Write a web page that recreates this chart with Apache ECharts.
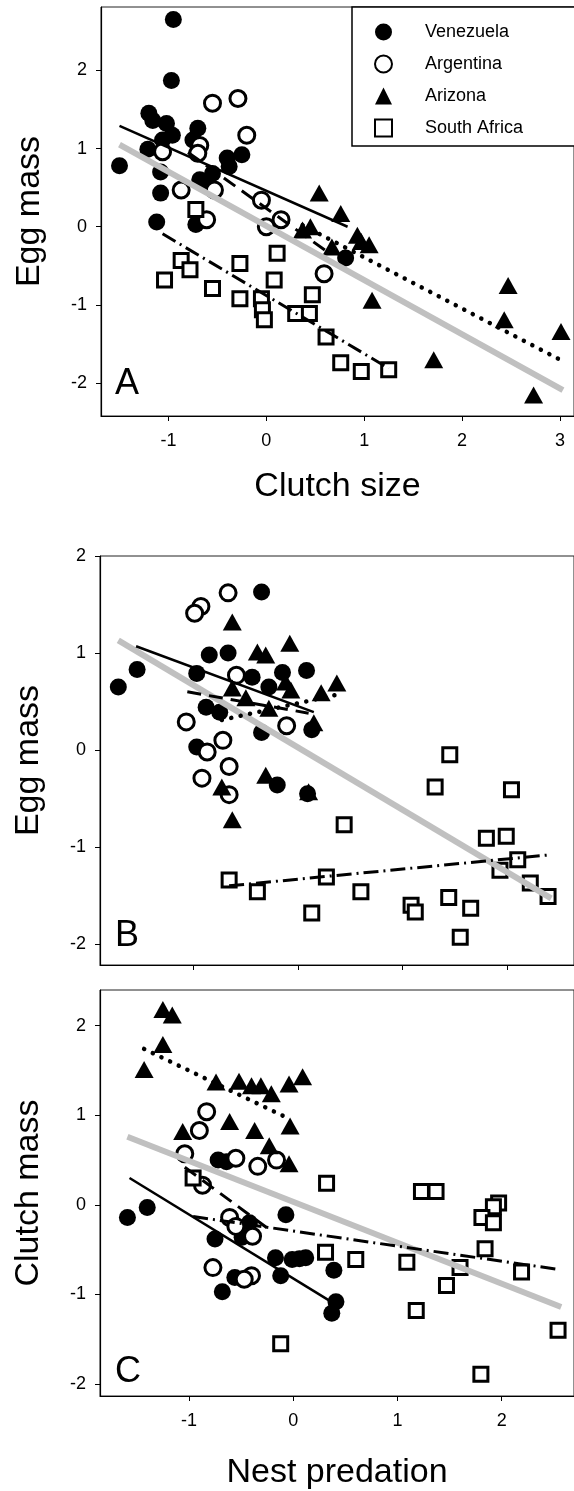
<!DOCTYPE html>
<html>
<head>
<meta charset="utf-8">
<script src="https://cdn.jsdelivr.net/npm/echarts@6/dist/echarts.min.js"></script>
<style>
html,body{margin:0;padding:0;background:#fff;}
#chart{width:574px;height:1491px;}
</style>
</head>
<body>
<div id="chart"></div>
<script>
// ---------- DATA ----------
const groups = ['Venezuela', 'Argentina', 'Arizona', 'South Africa'];
const tickValues = [-2, -1, 0, 1, 2, 3];
const panelLetters = ['A', 'B', 'C'];
const axisTitlesX = ['Clutch size', '', 'Nest predation'];
const axisTitlesY = ['Egg mass', 'Egg mass', 'Clutch mass'];

// Panel A: Egg mass vs Clutch size
const A_venezuela = [[-0.95,2.65],[-0.97,1.87],[-1.20,1.45],[-1.16,1.36],[-1.02,1.32],[-0.96,1.17],[-1.06,1.11],[-1.21,0.99],[-0.70,1.26],[-0.75,1.11],[-1.50,0.78],[-1.08,0.70],[-1.08,0.43],[-0.68,0.60],[-0.55,0.68],[-0.40,0.88],[-0.25,0.92],[-0.38,0.77],[-1.12,0.06],[-0.72,0.03],[0.81,-0.40],[-0.62,0.55]];
const A_argentina = [[-0.55,1.58],[-0.29,1.64],[-0.20,1.17],[-0.68,1.04],[-1.06,0.96],[-0.70,0.94],[-0.87,0.47],[-0.53,0.47],[-0.05,0.34],[-0.61,0.09],[0.0,0.0],[0.15,0.09],[0.59,-0.60]];
const A_arizona = [[0.54,0.43],[0.76,0.17],[0.37,-0.04],[0.45,0.0],[0.67,-0.26],[0.93,-0.11],[0.97,-0.19],[1.05,-0.23],[1.08,-0.94],[1.71,-1.70],[2.47,-0.75],[2.43,-1.19],[3.01,-1.34],[2.73,-2.15]];
const A_southAfrica = [[-0.72,0.22],[-1.04,-0.68],[-0.87,-0.43],[-0.78,-0.55],[-0.55,-0.79],[-0.27,-0.47],[-0.27,-0.92],[-0.05,-0.92],[-0.04,-1.06],[-0.02,-1.19],[0.08,-0.68],[0.11,-0.34],[0.30,-1.11],[0.44,-1.11],[0.47,-0.87],[0.61,-1.41],[0.76,-1.74],[0.97,-1.85],[1.25,-1.83]];
const A_fitVenezuela = [[-1.5,1.29],[0.83,0.0]];
const A_fitArgentina = [[-0.8,0.95],[0.6,-0.3]];
const A_fitArizona = [[0.37,0.02],[3.0,-1.70]];
const A_fitSouthAfrica = [[-1.06,-0.09],[1.25,-1.81]];
const A_fitAll = [[-1.5,1.05],[3.03,-2.09]];

// Panel B: Egg mass vs Nest predation
const B_venezuela = [[-1.72,0.65],[-1.54,0.83],[-0.35,1.63],[-0.85,0.98],[-0.67,1.00],[-0.97,0.79],[-0.44,0.75],[-0.28,0.65],[-0.15,0.80],[0.08,0.82],[-0.88,0.44],[-0.75,0.39],[-0.35,0.18],[-0.97,0.03],[0.13,0.21],[-0.20,-0.36],[0.09,-0.45]];
const B_argentina = [[-0.67,1.62],[-0.93,1.48],[-0.99,1.41],[-0.59,0.77],[-1.07,0.29],[-0.72,0.10],[-0.87,-0.02],[-0.11,0.25],[-0.66,-0.17],[-0.92,-0.29],[-0.66,-0.46]];
const B_arizona = [[-0.63,1.32],[-0.39,1.01],[-0.31,0.98],[-0.08,1.10],[-0.63,0.64],[-0.50,0.54],[-0.28,0.43],[-0.12,0.70],[-0.07,0.62],[0.22,0.59],[0.37,0.69],[0.15,0.28],[-0.73,-0.38],[-0.63,-0.72],[-0.31,-0.26],[0.10,-0.43]];
const B_southAfrica = [[1.45,-0.05],[1.31,-0.38],[2.04,-0.41],[0.44,-0.77],[1.80,-0.91],[1.99,-0.89],[2.10,-1.13],[1.93,-1.24],[2.22,-1.37],[2.39,-1.51],[0.27,-1.31],[0.60,-1.46],[0.13,-1.68],[1.08,-1.60],[1.12,-1.67],[1.44,-1.52],[1.65,-1.63],[1.55,-1.93],[-0.66,-1.34],[-0.39,-1.46]];
const B_fitVenezuela = [[-1.55,1.07],[0.15,0.39]];
const B_fitArgentina = [[-1.06,0.60],[0.10,0.38]];
const B_fitArizona = [[-0.73,0.31],[0.37,0.57]];
const B_fitSouthAfrica = [[-0.66,-1.40],[2.41,-1.08]];
const B_fitAll = [[-1.72,1.13],[2.42,-1.53]];

// Panel C: Clutch mass vs Nest predation
const C_venezuela = [[-1.59,-0.14],[-1.40,-0.03],[-0.75,-0.38],[-0.56,-0.81],[-0.68,-0.97],[-0.42,-0.20],[-0.49,-0.36],[-0.17,-0.59],[-0.12,-0.79],[-0.07,-0.11],[-0.01,-0.61],[0.06,-0.60],[0.12,-0.59],[0.39,-0.73],[0.41,-1.08],[0.37,-1.21],[-0.72,0.50],[-0.64,0.48]];
const C_argentina = [[-0.83,1.04],[-0.90,0.83],[-1.04,0.57],[-0.55,0.52],[-0.34,0.43],[-0.16,0.50],[-0.87,0.22],[-0.61,-0.14],[-0.55,-0.24],[-0.39,-0.35],[-0.77,-0.70],[-0.40,-0.79],[-0.47,-0.83]];
const C_arizona = [[-1.25,2.18],[-1.16,2.12],[-1.25,1.79],[-1.43,1.51],[-0.74,1.37],[-0.52,1.38],[-0.40,1.33],[-0.31,1.33],[-0.21,1.24],[-0.04,1.35],[0.09,1.43],[-0.03,0.88],[-1.06,0.82],[-0.61,0.93],[-0.37,0.83],[-0.23,0.66],[-0.04,0.46]];
const C_southAfrica = [[-0.96,0.30],[0.32,0.24],[1.23,0.15],[1.37,0.15],[1.97,0.02],[1.92,-0.02],[1.81,-0.14],[1.92,-0.20],[1.84,-0.49],[1.60,-0.70],[1.47,-0.90],[2.19,-0.75],[2.54,-1.40],[1.80,-1.89],[1.18,-1.18],[1.09,-0.64],[0.60,-0.61],[0.31,-0.53],[-0.12,-1.55]];
const C_fitVenezuela = [[-1.57,0.30],[0.39,-1.10]];
const C_fitArgentina = [[-1.04,0.42],[-0.20,-0.30]];
const C_fitArizona = [[-1.43,1.74],[-0.02,0.95]];
const C_fitSouthAfrica = [[-0.96,-0.13],[2.54,-0.72]];
const C_fitAll = [[-1.59,0.76],[2.57,-1.14]];

// ---------- CHART ----------
const FONT = "'Liberation Sans', Arial, Helvetica, sans-serif";
const panels = [
  {pts:[A_venezuela,A_argentina,A_arizona,A_southAfrica], fits:[A_fitVenezuela,A_fitArgentina,A_fitArizona,A_fitSouthAfrica], all:A_fitAll,
   grid:{left:101, top:7, width:475, height:409}, x:[-1.689,3.143], y:[-2.42,2.81], xt:[-1,0,1,2,3], labels:true, nameGap:54},
  {pts:[B_venezuela,B_argentina,B_arizona,B_southAfrica], fits:[B_fitVenezuela,B_fitArgentina,B_fitArizona,B_fitSouthAfrica], all:B_fitAll,
   grid:{left:100, top:556, width:476, height:409}, x:[-1.895,2.638], y:[-2.216,2.0], xt:[-1,0,1,2], labels:false, nameGap:52},
  {pts:[C_venezuela,C_argentina,C_arizona,C_southAfrica], fits:[C_fitVenezuela,C_fitArgentina,C_fitArizona,C_fitSouthAfrica], all:C_fitAll,
   grid:{left:100, top:990, width:476, height:410}, x:[-1.853,2.693], y:[-2.133,2.398], xt:[-1,0,1,2], labels:true, nameGap:60}
];

const symbolStyles = [
  {symbol:'circle', symbolSize:17, itemStyle:{color:'#000', opacity:1}},
  {symbol:'circle', symbolSize:16, itemStyle:{color:'#fff', borderColor:'#000', borderWidth:3, opacity:1}},
  {symbol:'triangle', symbolSize:[19,17], itemStyle:{color:'#000', opacity:1}},
  {symbol:'rect', symbolSize:14, itemStyle:{color:'#fff', borderColor:'#000', borderWidth:3, opacity:1}}
];
const fitStyles = [
  {color:'#000', width:2.5, type:'solid'},
  {color:'#000', width:3, type:[14,8]},
  {color:'#000', width:4.5, type:[0.1,9.5], cap:'round'},
  {color:'#000', width:3, type:[15,5,2,5]}
];

const axisLineStyle = {onZero:false, lineStyle:{color:'#000', width:1.2}};
const grids = [], xAxes = [], yAxes = [], series = [];
panels.forEach((p, i) => {
  grids.push(Object.assign({show:true, borderColor:'#222', borderWidth:1, backgroundColor:'transparent'}, p.grid));
  xAxes.push({
    type:'value', gridIndex:i, min:p.x[0], max:p.x[1],
    splitLine:{show:false}, axisLine:axisLineStyle,
    axisTick:{show:true, length:5, customValues:p.xt, lineStyle:{color:'#000'}},
    axisLabel:{show:p.labels, customValues:p.xt, margin:16, fontSize:18, color:'#000', fontFamily:FONT},
    name:axisTitlesX[i], nameLocation:'middle', nameGap:p.nameGap,
    nameTextStyle:{fontSize:34, color:'#000', fontFamily:FONT}
  });
  yAxes.push({
    type:'value', gridIndex:i, min:p.y[0], max:p.y[1],
    splitLine:{show:false}, axisLine:axisLineStyle,
    axisTick:{show:true, length:5, customValues:[-2,-1,0,1,2], lineStyle:{color:'#000'}},
    axisLabel:{customValues:[-2,-1,0,1,2], margin:14, fontSize:18, color:'#000', fontFamily:FONT},
    name:axisTitlesY[i], nameLocation:'middle', nameGap:54,
    nameTextStyle:{fontSize:34, color:'#000', fontFamily:FONT}
  });
  groups.forEach((g, k) => {
    series.push(Object.assign({
      type:'scatter', name:g, xAxisIndex:i, yAxisIndex:i, data:p.pts[k], z:2, silent:true
    }, JSON.parse(JSON.stringify(symbolStyles[k]))));
  });
  series.push({type:'line', name:'all-'+i, xAxisIndex:i, yAxisIndex:i, data:p.all, showSymbol:false, symbol:'none', z:3, silent:true,
    lineStyle:{color:'#c0c0c0', width:6}});
  groups.forEach((g, k) => {
    series.push({type:'line', name:'fit-'+i+'-'+k, xAxisIndex:i, yAxisIndex:i, data:p.fits[k], showSymbol:false, symbol:'none', z:4, silent:true,
      lineStyle:Object.assign({}, fitStyles[k])});
  });
});

const letterPos = [[115,366],[115,918],[115,1354]];
const graphics = panelLetters.map((t, i) => ({
  type:'text', left:letterPos[i][0], top:letterPos[i][1], z:10,
  style:{text:t, font:'36px ' + FONT, fill:'#000'}
}));

const chart = echarts.init(document.getElementById('chart'), null, {renderer:'canvas'});
chart.setOption({
  animation:false,
  backgroundColor:'#fff',
  grid:grids, xAxis:xAxes, yAxis:yAxes, series:series, graphic:graphics,
  legend:{
    data:groups, orient:'vertical', left:352, top:7,
    padding:[14,80,7,22], itemGap:10, itemWidth:17, itemHeight:17,
    backgroundColor:'#fff', borderColor:'#000', borderWidth:1.5,
    selectedMode:false,
    textStyle:{fontSize:18, color:'#000', fontFamily:FONT, lineHeight:22, padding:[0,0,0,28]}
  }
});
</script>
</body>
</html>
